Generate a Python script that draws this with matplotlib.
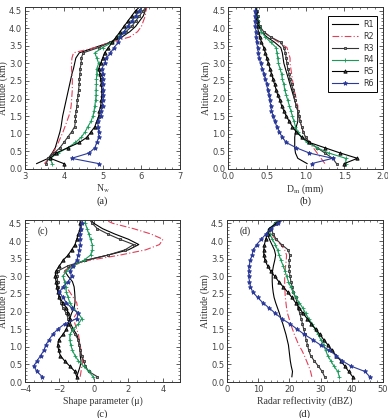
import numpy as np
import matplotlib
matplotlib.use("Agg")
import matplotlib.pyplot as plt
from matplotlib.ticker import MultipleLocator

plt.rcParams['mathtext.fontset'] = 'stix'
plt.rcParams['font.family'] = ['Liberation Serif', 'DejaVu Serif']

# altitude levels (km)
alt = [0.15, 0.30, 0.45, 0.60, 0.75, 0.90, 1.05, 1.20, 1.35, 1.50, 1.65,
       1.80, 1.95, 2.10, 2.25, 2.40, 2.55, 2.70, 2.85, 3.00, 3.15, 3.30,
       3.45, 3.60, 3.75, 3.90, 4.05, 4.20, 4.35, 4.50, 4.65]

names = ["R1", "R2", "R3", "R4", "R5", "R6"]

# (a) Nw
nw_r1 = [3.3, 3.6, 3.7, 3.78, 3.82, 3.86, 3.9, 3.93, 3.95, 3.97, 4.0, 4.03, 4.06, 4.09, 4.12, 4.15, 4.18, 4.21, 4.25, 4.28, 4.31, 4.4, 4.8, 5.2, 5.5, 5.7, 5.85, 5.95, 6.05, 6.1, 6.15]
nw_r2 = [3.5, 3.62, 3.72, 3.8, 3.86, 3.92, 3.98, 4.03, 4.08, 4.13, 4.17, 4.19, 4.2, 4.21, 4.22, 4.22, 4.22, 4.21, 4.2, 4.2, 4.21, 4.25, 4.8, 5.2, 5.7, 5.9, 6.0, 6.05, 6.1, 6.12, 6.15]
nw_r3 = [3.55, 3.6, 3.75, 3.9, 4.0, 4.1, 4.2, 4.28, 4.3, 4.3, 4.32, 4.34, 4.35, 4.37, 4.38, 4.4, 4.4, 4.42, 4.42, 4.45, 4.45, 4.5, 4.9, 5.2, 5.4, 5.6, 5.75, 5.85, 5.95, 6.05, 6.15]
nw_r4 = [3.7, 3.65, 3.85, 4.1, 4.3, 4.45, 4.55, 4.62, 4.7, 4.75, 4.78, 4.8, 4.82, 4.83, 4.83, 4.84, 4.84, 4.85, 4.85, 4.9, 4.85, 4.8, 5.0, 5.25, 5.4, 5.55, 5.65, 5.75, 5.85, 5.95, 6.05]
nw_r5 = [4.0, 3.65, 3.8, 4.1, 4.4, 4.6, 4.7, 4.8, 4.85, 4.9, 4.92, 4.95, 4.97, 4.98, 4.98, 4.97, 4.95, 4.93, 4.9, 4.95, 5.0, 5.05, 5.15, 5.25, 5.35, 5.45, 5.55, 5.65, 5.75, 5.85, 6.0]
nw_r6 = [4.9, 4.2, 4.65, 4.8, 4.85, 4.9, 4.9, 4.88, 4.88, 4.95, 4.97, 5.0, 5.0, 5.02, 5.02, 5.0, 5.0, 5.0, 4.98, 5.05, 5.1, 5.2, 5.3, 5.4, 5.45, 5.55, 5.65, 5.75, 5.85, 5.95, 6.05]

# (b) Dm (mm)
dm_r1 = [1.02, 0.9, 0.87, 0.86, 0.86, 0.86, 0.87, 0.88, 0.9, 0.9, 0.9, 0.88, 0.86, 0.84, 0.82, 0.8, 0.78, 0.76, 0.74, 0.72, 0.71, 0.7, 0.68, 0.6, 0.5, 0.43, 0.4, 0.38, 0.37, 0.36, 0.36]
dm_r2 = [1.25, 1.2, 1.15, 1.1, 1.05, 1.0, 0.97, 0.95, 0.93, 0.92, 0.9, 0.9, 0.88, 0.87, 0.85, 0.84, 0.83, 0.82, 0.81, 0.8, 0.8, 0.78, 0.76, 0.65, 0.55, 0.45, 0.4, 0.38, 0.37, 0.36, 0.36]
dm_r3 = [1.4, 1.35, 1.25, 1.15, 1.05, 1.0, 0.97, 0.95, 0.93, 0.92, 0.9, 0.88, 0.86, 0.85, 0.84, 0.82, 0.8, 0.79, 0.77, 0.76, 0.75, 0.74, 0.72, 0.68, 0.55, 0.46, 0.41, 0.39, 0.38, 0.37, 0.37]
dm_r4 = [1.52, 1.52, 1.3, 1.15, 1.02, 0.95, 0.9, 0.87, 0.85, 0.83, 0.81, 0.79, 0.77, 0.75, 0.73, 0.72, 0.7, 0.69, 0.67, 0.65, 0.64, 0.63, 0.62, 0.55, 0.48, 0.43, 0.4, 0.38, 0.37, 0.36, 0.36]
dm_r5 = [1.5, 1.67, 1.45, 1.25, 1.05, 0.95, 0.88, 0.83, 0.79, 0.75, 0.72, 0.69, 0.67, 0.64, 0.62, 0.6, 0.58, 0.56, 0.54, 0.52, 0.5, 0.48, 0.46, 0.43, 0.41, 0.39, 0.38, 0.37, 0.36, 0.36, 0.36]
dm_r6 = [1.08, 1.35, 1.05, 0.88, 0.75, 0.7, 0.66, 0.63, 0.6, 0.58, 0.56, 0.55, 0.54, 0.53, 0.51, 0.5, 0.48, 0.46, 0.44, 0.42, 0.4, 0.39, 0.38, 0.37, 0.36, 0.36, 0.35, 0.35, 0.35, 0.35, 0.36]

# (c) shape parameter mu
mu_r1 = [-1.0, -0.9, -0.8, -0.75, -0.8, -0.8, -0.85, -0.9, -1.0, -1.2, -1.35, -1.4, -1.3, -1.15, -1.1, -1.1, -1.12, -1.15, -1.25, -1.5, -1.7, -1.3, -0.5, 0.8, 2.0, 2.6, 2.0, 1.2, 0.5, 0.0, -0.3]
mu_r2 = [-0.8, -0.75, -0.7, -0.65, -0.7, -0.75, -0.8, -0.85, -0.9, -1.0, -1.1, -1.2, -1.0, -0.95, -1.0, -1.2, -1.4, -1.6, -1.7, -1.8, -1.7, -1.3, -0.3, 1.5, 3.0, 3.8, 4.0, 3.3, 2.3, 1.1, 0.4]
mu_r3 = [0.2, -0.3, -0.5, -0.6, -0.7, -0.8, -0.85, -0.9, -1.1, -1.3, -1.45, -1.5, -1.6, -1.8, -1.9, -2.0, -2.05, -2.1, -2.1, -2.15, -2.1, -1.5, -0.5, 0.8, 1.8, 2.3, 1.5, 0.8, 0.2, -0.1, -0.3]
mu_r4 = [-0.05, -0.3, -0.6, -0.9, -1.1, -1.25, -1.35, -1.4, -1.4, -1.2, -0.9, -0.7, -0.9, -1.2, -1.4, -1.5, -1.6, -1.65, -1.7, -1.8, -1.6, -1.2, -0.6, -0.2, -0.1, -0.1, -0.2, -0.3, -0.4, -0.5, -0.5]
mu_r5 = [-1.0, -1.1, -1.4, -1.7, -1.95, -2.05, -2.1, -2.05, -1.8, -1.6, -1.5, -1.4, -1.5, -1.6, -1.8, -2.0, -2.1, -2.15, -2.2, -2.25, -2.2, -2.0, -1.8, -1.5, -1.3, -1.1, -1.0, -0.9, -0.8, -0.8, -0.8]
mu_r6 = [-3.0, -3.3, -3.5, -3.3, -3.1, -2.9, -2.8, -2.6, -2.4, -2.1, -1.7, -1.0, -0.9, -1.3, -1.6, -1.8, -2.0, -1.8, -1.5, -1.3, -1.4, -1.2, -1.0, -0.9, -0.85, -0.8, -0.8, -0.8, -0.75, -0.7, -0.7]

# (d) radar reflectivity (dBZ)
z_r1 = [20.8, 21.0, 20.6, 20.3, 20.1, 19.9, 19.7, 19.3, 18.9, 18.4, 17.9, 17.3, 16.8, 16.2, 15.6, 15.1, 14.8, 14.6, 14.5, 14.5, 14.6, 14.9, 15.3, 15.6, 15.2, 14.4, 13.6, 13.0, 13.5, 16.0, 18.0]
z_r2 = [27.2, 26.8, 26.2, 25.5, 24.8, 24.0, 23.0, 22.3, 21.6, 21.0, 20.4, 19.9, 19.4, 19.1, 18.9, 18.7, 18.6, 18.5, 18.5, 18.5, 18.6, 18.8, 19.0, 19.1, 18.5, 17.2, 15.5, 14.3, 13.8, 15.8, 18.0]
z_r3 = [31.3, 30.5, 29.3, 28.0, 26.8, 26.2, 25.8, 25.4, 25.0, 24.6, 24.2, 23.8, 23.3, 22.9, 22.5, 22.0, 21.3, 20.9, 20.5, 20.2, 20.0, 19.9, 20.0, 20.1, 19.6, 17.5, 15.8, 14.8, 14.2, 15.5, 17.5]
z_r4 = [36.0, 35.5, 34.3, 33.3, 32.3, 31.6, 31.0, 30.1, 29.2, 28.3, 27.3, 26.2, 25.2, 24.3, 23.2, 22.0, 21.2, 20.4, 19.7, 19.1, 18.6, 18.0, 17.3, 16.7, 16.2, 15.5, 14.5, 13.8, 13.5, 15.5, 17.8]
z_r5 = [40.3, 39.0, 37.8, 36.5, 35.0, 33.7, 32.4, 31.0, 29.8, 28.4, 27.0, 25.7, 24.4, 23.2, 22.0, 20.8, 19.5, 18.0, 16.6, 15.3, 14.0, 13.0, 12.2, 11.8, 11.8, 12.0, 12.4, 13.0, 13.5, 15.8, 18.0]
z_r6 = [45.8, 44.2, 39.8, 37.0, 35.0, 32.8, 30.0, 27.5, 24.8, 22.5, 20.2, 17.5, 15.5, 13.5, 11.5, 9.8, 8.3, 7.5, 7.2, 7.0, 7.0, 7.1, 7.5, 8.0, 8.5, 9.5, 11.0, 12.5, 14.0, 16.5, 18.5]

styles = [
    dict(color='black', ls='-', marker=None),
    dict(color='#e0405a', ls=(0, (6, 2, 1, 2)), marker=None),
    dict(color='#333333', ls='-', marker='s', ms=2.0, mfc='#888888'),
    dict(color='#1a9a5a', ls='-', marker='+', ms=3.5),
    dict(color='black', ls='-', marker='^', ms=2.4, mfc='#444444'),
    dict(color='#2b3a9a', ls='-', marker='*', ms=3.2),
]

fig = plt.figure(figsize=(3.88, 4.18), dpi=100)

panels = [
    ([nw_r1, nw_r2, nw_r3, nw_r4, nw_r5, nw_r6], [0.0644, 0.596, 0.400, 0.387], (3, 7), 1, 0.2, r'N$_\mathrm{w}$', '(a)'),
    ([dm_r1, dm_r2, dm_r3, dm_r4, dm_r5, dm_r6], [0.588, 0.596, 0.399, 0.387], (0, 2), 0.5, 0.1, r'D$_\mathrm{m}$ (mm)', '(b)'),
    ([mu_r1, mu_r2, mu_r3, mu_r4, mu_r5, mu_r6], [0.0644, 0.086, 0.400, 0.388], (-4, 5), 2, 0.5, 'Shape parameter (μ)', '(c)'),
    ([z_r1, z_r2, z_r3, z_r4, z_r5, z_r6], [0.585, 0.086, 0.402, 0.388], (0, 50), 10, 2, 'Radar reflectivity (dBZ)', '(d)'),
]

for series, rect, xlim, major, minor, xlabel, tag in panels:
    ax = fig.add_axes(rect)
    for vals, name, st in zip(series, names, styles):
        ax.plot(vals, alt, color=st['color'], ls=st['ls'], marker=st['marker'],
                ms=st.get('ms', 3), mfc=st.get('mfc', st['color']), mec=st['color'],
                mew=0.6, lw=0.8, label=name)
    ax.set_xlim(*xlim)
    ax.set_ylim(0, 4.6)
    ax.xaxis.set_major_locator(MultipleLocator(major))
    ax.xaxis.set_minor_locator(MultipleLocator(minor))
    ax.yaxis.set_major_locator(MultipleLocator(0.5))
    ax.yaxis.set_minor_locator(MultipleLocator(0.1))
    ax.tick_params(which='both', direction='in', top=True, right=True,
                   labelsize=6, colors='#444444', labelfontfamily='DejaVu Sans', pad=2)
    ax.tick_params(which='major', length=3, width=0.6)
    ax.tick_params(which='minor', length=1.5, width=0.5)
    for s in ax.spines.values():
        s.set_linewidth(0.7)
        s.set_color('#333333')
    ax.set_xlabel(xlabel, fontsize=7, color='#333333', labelpad=1.5)
    ax.set_ylabel('Altitude (km)', fontsize=7, color='#333333', labelpad=0.5)
    ax.text(0.5, -0.17, tag, transform=ax.transAxes, ha='center', va='top',
            fontsize=7.5, color='#222222')
    if tag in ('(c)', '(d)'):
        ax.text(0.08, 0.93, tag, transform=ax.transAxes, ha='left', va='center',
                fontsize=7, color='#222222')
    if tag == '(b)':
        leg = ax.legend(loc='upper right', bbox_to_anchor=(0.975, 0.955),
                        prop={'family': 'DejaVu Sans', 'size': 5.8},
                        fancybox=False, edgecolor='black', framealpha=1,
                        handlelength=3.2, labelspacing=0.35, borderpad=0.5,
                        handletextpad=0.6, borderaxespad=0.2)
        leg.get_frame().set_linewidth(0.7)
        for t in leg.get_texts():
            t.set_color('#333333')

fig.savefig('out.png', dpi=100)
